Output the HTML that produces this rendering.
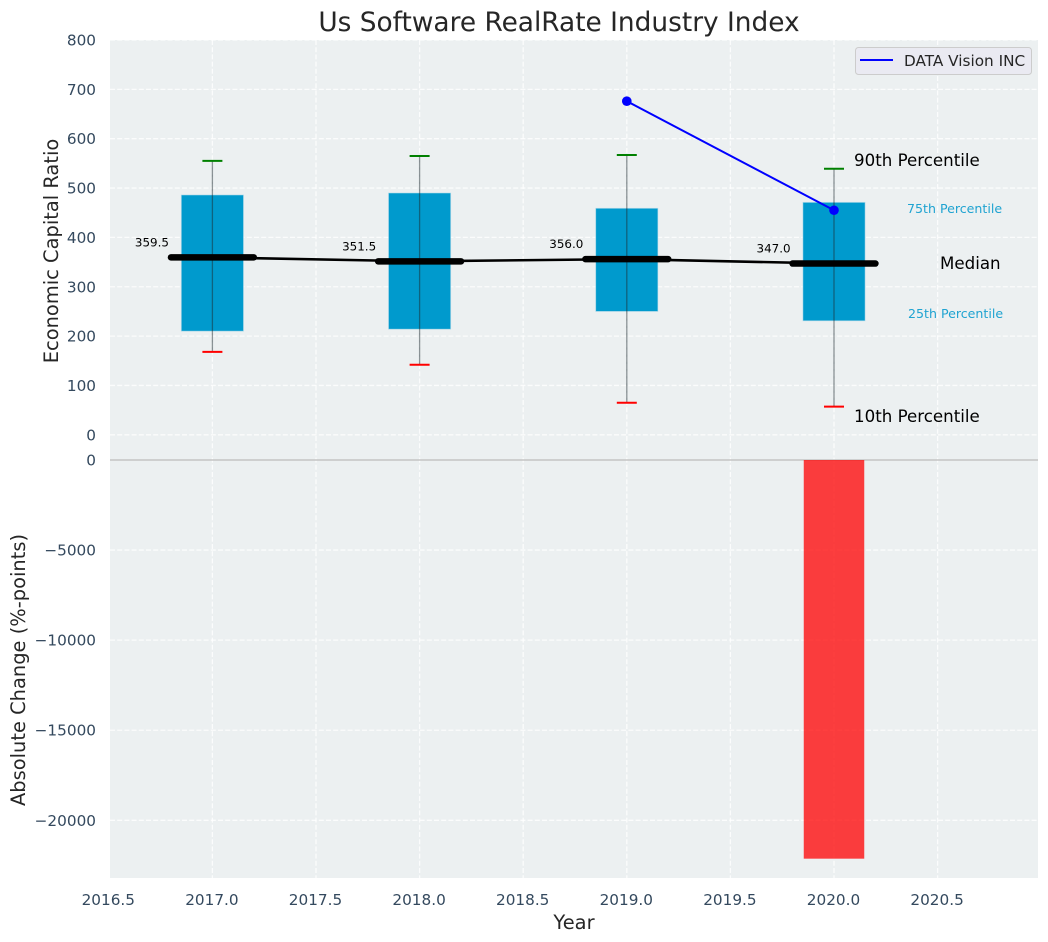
<!DOCTYPE html>
<html lang="en">
<head>
<meta charset="utf-8">
<title>Us Software RealRate Industry Index</title>
<style>
html,body{margin:0;padding:0;background:#fff;width:1048px;height:942px;overflow:hidden}
svg{display:block}
text{font-family:"DejaVu Sans","Liberation Sans",sans-serif}
</style>
</head>
<body>
<svg id="chart" xmlns="http://www.w3.org/2000/svg" width="1048" height="942" viewBox="0 0 1048 942">
  <rect x="0" y="0" width="1048" height="942" fill="#ffffff"/>
  <rect x="110" y="40" width="928" height="419.5" fill="#ecf0f1"/>
  <rect x="110" y="459.5" width="928" height="418.5" fill="#ecf0f1"/>
  <g id="grid"></g>
  <g id="bars"></g>
  <g id="boxes"></g>
  <g id="lines"></g>
  <g id="ticks"></g>
  <text x="559" y="31" text-anchor="middle" font-size="26.39" fill="#262626">Us Software RealRate Industry Index</text>
  <text transform="translate(58,251) rotate(-90)" text-anchor="middle" font-size="19.44" fill="#262626">Economic Capital Ratio</text>
  <text transform="translate(25,670) rotate(-90)" text-anchor="middle" font-size="19.44" fill="#262626">Absolute Change (%-points)</text>
  <text x="574" y="929" text-anchor="middle" font-size="19.44" fill="#262626">Year</text>
  <text x="854" y="166" font-size="16.67" fill="#000000">90th Percentile</text>
  <text x="907" y="213" font-size="12.6" fill="#1fa3d1">75th Percentile</text>
  <text x="940" y="269" font-size="16.67" fill="#000000">Median</text>
  <text x="908" y="318" font-size="12.6" fill="#1fa3d1">25th Percentile</text>
  <text x="854" y="422" font-size="16.67" fill="#000000">10th Percentile</text>
  <g>
    <rect x="855.5" y="47.5" width="176" height="27" rx="3" fill="#eaeaf2" stroke="#cccccc" stroke-width="1"/>
    <line x1="860" y1="60" x2="893" y2="60" stroke="#0000ff" stroke-width="2"/>
    <text x="904" y="66" font-size="15.28" fill="#262626">DATA Vision INC</text>
  </g>
</svg>
<script>
const years = [2017, 2018, 2019, 2020];
const p90 = [555, 565, 567, 539];
const p75 = [486, 490, 459, 471];
const medians = [359.5, 351.5, 356.0, 347.0];
const p25 = [210, 214, 250, 231];
const p10 = [168, 142, 65, 57];
const medianLabels = ["359.5", "351.5", "356.0", "347.0"];
const companyYears = [2019, 2020];
const companyValues = [676, 455];
const changeYears = [2020];
const changeValues = [-22130];
const xTicks = [2016.5, 2017, 2017.5, 2018, 2018.5, 2019, 2019.5, 2020, 2020.5];
const xTickLabels = ["2016.5", "2017.0", "2017.5", "2018.0", "2018.5", "2019.0", "2019.5", "2020.0", "2020.5"];
const upperTicks = [0, 100, 200, 300, 400, 500, 600, 700, 800];
const upperTickLabels = ["0", "100", "200", "300", "400", "500", "600", "700", "800"];
const lowerTicks = [0, -5000, -10000, -15000, -20000];
const lowerTickLabels = ["0", "\u22125000", "\u221210000", "\u221215000", "\u221220000"];

const SVG_NS = "http://www.w3.org/2000/svg";
const PLOT_LEFT = 110, PLOT_RIGHT = 1038, PLOT_TOP = 40, PLOT_MID = 459.5, PLOT_BOTTOM = 878;
const xScale = v => 212.4 + (v - 2017) * 207.2;
const yUpper = v => 434.8 - v * 0.4935;
const yLower = v => 460 - v * 0.018015;

function make(tag, parent, attrs) {
  const el = document.createElementNS(SVG_NS, tag);
  for (const k in attrs) el.setAttribute(k, attrs[k]);
  parent.appendChild(el);
  return el;
}

const gridG = document.getElementById("grid");
const barsG = document.getElementById("bars");
const boxesG = document.getElementById("boxes");
const linesG = document.getElementById("lines");
const ticksG = document.getElementById("ticks");
const gridStyle = {stroke: "#ffffff", "stroke-width": 1.3, "stroke-dasharray": "5 2.2", "stroke-opacity": 0.8};

xTicks.forEach((t, i) => {
  const x = xScale(t);
  if (x >= PLOT_LEFT) {
    const g = make("line", gridG, Object.assign({x1: x, x2: x, y1: PLOT_TOP, y2: PLOT_BOTTOM}, gridStyle));
    
    
  }
  const lab = make("text", ticksG, {x: x - 0.5, y: 905, "text-anchor": "middle", "font-size": 15.28, fill: "#34495e"});
  lab.textContent = xTickLabels[i];
  
  
});

upperTicks.forEach((t, i) => {
  const y = yUpper(t);
  const g = make("line", gridG, Object.assign({x1: PLOT_LEFT, x2: PLOT_RIGHT, y1: y, y2: y}, gridStyle));
  
  
  const lab = make("text", ticksG, {x: 96, y: y + 5.5, "text-anchor": "end", "font-size": 15.28, fill: "#34495e"});
  lab.textContent = upperTickLabels[i];
  
  
});

lowerTicks.forEach((t, i) => {
  const y = yLower(t);
  if (t !== 0) {
    const g = make("line", gridG, Object.assign({x1: PLOT_LEFT, x2: PLOT_RIGHT, y1: y, y2: y}, gridStyle));
    
    
  }
  const lab = make("text", ticksG, {x: 96, y: y + 5.5, "text-anchor": "end", "font-size": 15.28, fill: "#34495e"});
  lab.textContent = lowerTickLabels[i];
  
  
});

const zeroLine = make("line", gridG, {x1: PLOT_LEFT, x2: PLOT_RIGHT, y1: yLower(0), y2: yLower(0), stroke: "#c4c4c4", "stroke-width": 1.4});



changeValues.forEach((v, i) => {
  const xl = xScale(changeYears[i] - 0.146), xr = xScale(changeYears[i] + 0.146);
  const r = make("rect", barsG, {x: xl, y: yLower(0), width: xr - xl, height: yLower(v) - yLower(0), fill: "#ff0000", "fill-opacity": 0.75});
  
  
});

years.forEach((yr, i) => {
  const x = xScale(yr);
  const xl = xScale(yr - 0.15), xr = xScale(yr + 0.15);
  const box = make("rect", boxesG, {x: xl, y: yUpper(p75[i]), width: xr - xl, height: yUpper(p25[i]) - yUpper(p75[i]), fill: "#009acd", stroke: "#b5dcea", "stroke-width": 0.8, "stroke-opacity": 0.7});
  
  
  const w = make("line", boxesG, {x1: x, x2: x, y1: yUpper(p90[i]), y2: yUpper(p10[i]), stroke: "#1c2a30", "stroke-width": 1.3, "stroke-opacity": 0.5});
  
  
  const capHi = make("line", boxesG, {x1: x - 10, x2: x + 10, y1: yUpper(p90[i]), y2: yUpper(p90[i]), stroke: "#008000", "stroke-width": 2});
  
  
  const capLo = make("line", boxesG, {x1: x - 10, x2: x + 10, y1: yUpper(p10[i]), y2: yUpper(p10[i]), stroke: "#ff0000", "stroke-width": 2});
  
  
});

const medianPath = make("polyline", linesG, {points: years.map((yr, i) => xScale(yr) + "," + yUpper(medians[i])).join(" "), fill: "none", stroke: "#000000", "stroke-width": 2.6});



years.forEach((yr, i) => {
  const y = yUpper(medians[i]);
  const m = make("line", linesG, {x1: xScale(yr - 0.2), x2: xScale(yr + 0.2), y1: y, y2: y, stroke: "#000000", "stroke-width": 6.5, "stroke-linecap": "round"});
  
  
  const t = make("text", linesG, {x: xScale(yr) - 77.5, y: y - 11, "font-size": 11.9, fill: "#000000"});
  t.textContent = medianLabels[i];
  
  
});

const companyLine = make("polyline", linesG, {points: companyYears.map((yr, i) => xScale(yr) + "," + yUpper(companyValues[i])).join(" "), fill: "none", stroke: "#0000ff", "stroke-width": 2});



companyValues.forEach((v, i) => {
  const c = make("circle", linesG, {cx: xScale(companyYears[i]), cy: yUpper(v), r: 4.8, fill: "#0000ff"});
  
  
});
</script>
</body>
</html>
